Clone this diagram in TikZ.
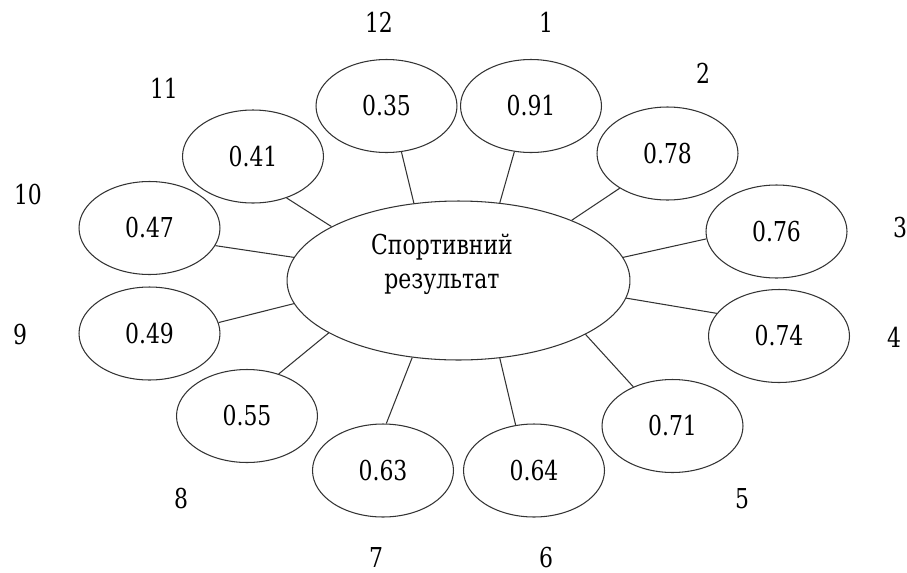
\documentclass[tikz,border=0pt]{standalone}
\usepackage{fontspec}
\setmainfont{DejaVu Serif}[FakeStretch=0.8]
\usetikzlibrary{shapes.geometric}

\begin{document}
\begin{tikzpicture}[x=0.02cm,y=-0.02cm,
		ell/.style={ellipse,draw=black!80,line width=0.6pt,inner sep=0pt,
			minimum width=2.82cm,minimum height=1.86cm,
			font=\fontsize{15.6}{19}\selectfont},
		big/.style={ellipse,draw=black!80,line width=0.6pt,inner sep=0pt,
			minimum width=6.86cm,minimum height=3.18cm},
		txt/.style={font=\fontsize{15.6}{19.5}\selectfont,inner sep=0pt},
		con/.style={draw=black!80,line width=0.6pt}]
	\useasboundingbox (0,0) rectangle (907,572);

	%%%%%%%%%%%%%%%%  centre  %%%%%%%%%%%%%%%%
	\node[big] (res) at (458.5,280.5) {};
	\node[txt,align=center] (restxt) at (442,264) {Спортивний\\результат};

	%%%%%%%%%%%%%%%%  factors  %%%%%%%%%%%%%%%%
	\foreach \k/\x/\y/\v in {1/531/106/0.91, 2/667.5/153.5/0.78,
			3/776.5/231.5/0.76, 4/779/336/0.74, 5/672.5/426/0.71,
			6/534/470.5/0.64, 7/383/470.5/0.63, 8/247/416/0.55,
			9/149.5/333.5/0.49, 10/149.5/228/0.47, 11/253/156.5/0.41,
			12/386.5/106/0.35}
		\node[ell] (e\k) at (\x,\y) {\v};

	% links to the centre
	\foreach \k/\a/\b in {1/62/-110, 2/28/216, 3/8/186, 4/-6/160,
			5/-23/135, 6/-62/112, 7/-121/86, 8/202/53, 9/188/9,
			10/172/-15, 11/157/-51, 12/120/-72}
		\draw[con] (res.\a) -- (e\k.\b);

	% numbers
	\foreach \k/\x/\y in {1/546/22, 2/703/73, 3/900/228, 4/894/337,
			5/742/499, 6/546/558, 7/376/558, 8/181/499, 9/20/335,
			10/28/195, 11/164/88, 12/379/22}
		\node[txt] (n\k) at (\x,\y) {\k};
\end{tikzpicture}
\end{document}
